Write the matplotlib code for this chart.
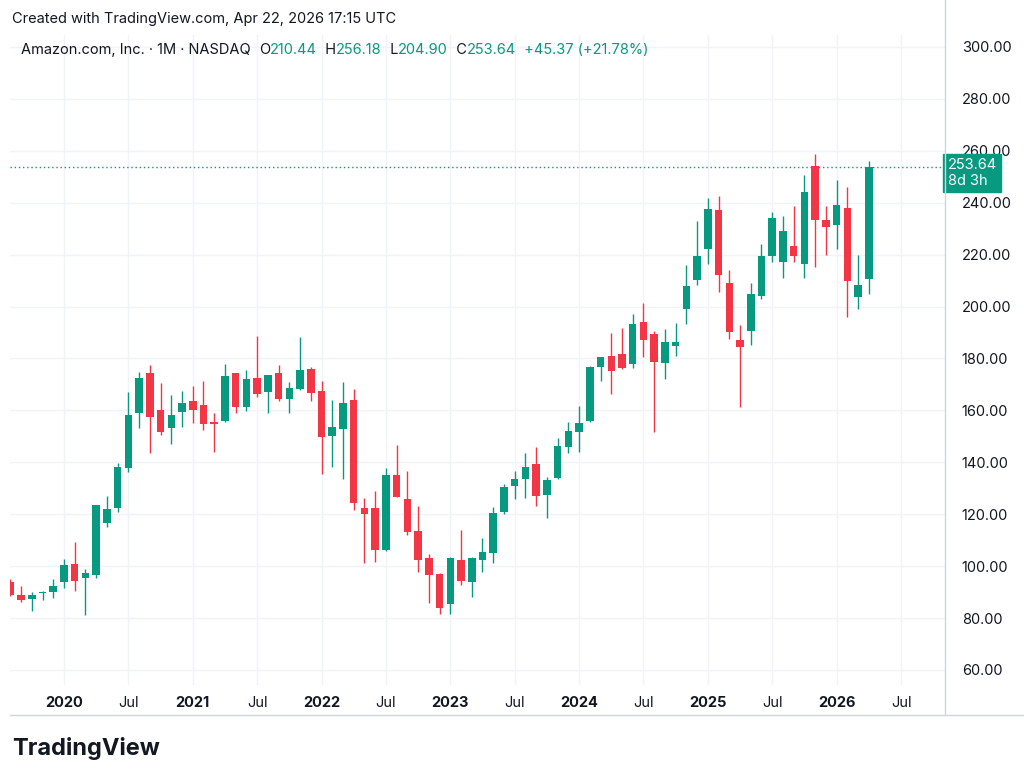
import matplotlib.pyplot as plt
from matplotlib.lines import Line2D
import numpy as np

# monthly candles, Aug 2019 .. Apr 2026
start_month = -5  # Aug 2019 relative to Jan 2020
opens = [93.7, 88.9, 87.4, 89.5, 90.2,
         93.8, 101.0, 95.3, 96.6, 116.8, 122.4, 137.9, 159.0, 174.5, 160.0, 153.1, 159.4,
         163.5, 162.1, 155.6, 155.9, 174.2, 161.2, 172.5, 167.0, 174.4, 164.5, 168.1, 176.0,
         167.6, 150.0, 152.7, 164.1, 122.4, 122.3, 106.3, 135.0, 126.0, 113.6, 103.0, 97.0,
         85.5, 102.5, 93.9, 102.3, 105.0, 120.7, 130.8, 133.6, 139.5, 127.3, 134.0, 146.0,
         151.5, 155.9, 176.8, 180.8, 181.6, 177.7, 193.9, 189.3, 178.1, 184.9, 199.0, 210.3,
         222.0, 237.0, 209.0, 187.2, 190.6, 204.0, 219.5, 217.2, 223.5, 216.4, 254.0, 233.2,
         231.5, 238.0, 203.5, 210.44]
highs = [94.9, 92.5, 89.9, 90.5, 95.1,
         102.8, 109.3, 99.0, 122.4, 127.0, 139.8, 167.2, 174.8, 177.6, 170.4, 166.1, 167.5,
         169.4, 171.3, 158.8, 177.7, 174.3, 175.5, 188.7, 170.9, 177.5, 171.0, 188.1, 176.7,
         171.4, 163.8, 170.8, 168.4, 126.2, 128.9, 137.7, 146.6, 136.5, 123.0, 104.6, 97.2,
         103.5, 114.0, 103.5, 110.9, 122.9, 131.5, 136.6, 143.6, 145.9, 134.5, 149.3, 155.6,
         161.7, 177.2, 180.1, 189.8, 191.7, 197.0, 201.2, 190.6, 191.2, 193.8, 215.9, 233.0,
         241.8, 242.5, 214.0, 192.9, 209.0, 224.0, 236.5, 235.0, 238.8, 250.5, 258.6, 238.9,
         248.9, 246.0, 220.0, 256.18]
lows = [88.3, 86.1, 82.6, 86.8, 87.8,
        91.5, 90.6, 81.3, 95.5, 115.1, 121.0, 136.1, 153.2, 143.6, 150.4, 147.0, 153.6,
        155.1, 152.5, 144.1, 155.6, 158.8, 159.8, 165.3, 158.8, 163.7, 158.8, 168.0, 163.6,
        135.4, 138.3, 133.6, 121.6, 101.3, 101.4, 105.9, 126.7, 112.1, 97.7, 85.9, 81.7,
        81.4, 92.6, 88.1, 97.7, 101.2, 119.9, 125.9, 126.4, 123.0, 118.4, 133.7, 143.6,
        144.0, 155.6, 171.5, 166.3, 176.0, 176.3, 180.4, 151.6, 172.0, 181.1, 193.4, 208.1,
        216.2, 205.6, 187.5, 161.4, 185.0, 203.0, 217.0, 211.0, 217.0, 211.0, 215.2, 220.0,
        222.0, 196.0, 199.0, 204.90]
closes = [88.8, 86.8, 88.8, 90.0, 92.4,
          100.4, 94.2, 97.5, 123.7, 122.1, 138.0, 158.2, 172.5, 157.4, 151.8, 158.4, 162.8,
          160.3, 154.6, 154.7, 173.4, 161.2, 172.0, 166.4, 173.5, 164.3, 168.6, 175.4, 166.7,
          149.6, 153.6, 163.0, 124.3, 120.2, 106.2, 135.0, 126.8, 113.0, 102.4, 96.5, 84.0,
          103.1, 94.2, 103.3, 105.5, 120.6, 130.4, 133.7, 138.0, 127.1, 133.1, 146.1, 151.9,
          155.2, 176.8, 180.4, 175.0, 176.4, 193.3, 187.0, 178.5, 186.3, 186.4, 207.9, 219.4,
          237.7, 212.3, 190.3, 184.4, 205.0, 219.4, 234.1, 229.0, 219.6, 244.2, 233.2, 230.8,
          239.3, 210.0, 208.27, 253.64]
year_ticks = [0, 12, 24, 36, 48, 60, 72]
year_labels = ["2020", "2021", "2022", "2023", "2024", "2025", "2026"]
jul_ticks = [6, 18, 30, 42, 54, 66, 78]
price_ticks = [60, 80, 100, 120, 140, 160, 180, 200, 220, 240, 260, 280, 300]

GREEN = "#089981"
RED = "#F23645"
INK = "#131722"

plt.rcParams['font.family'] = ['Inter', 'DejaVu Sans']
fig = plt.figure(figsize=(10.24, 7.83), dpi=100)
ax = fig.add_axes([10 / 1024, 98 / 783, 935 / 1024, 650 / 783])

x = np.arange(len(opens)) + start_month
o = np.array(opens); h = np.array(highs); l = np.array(lows); c = np.array(closes)
cols = np.where(c >= o, GREEN, RED)
ax.vlines(x, l, h, colors=cols, linewidth=1, zorder=3)
ax.bar(x, np.maximum(np.abs(c - o), 0.4), bottom=np.minimum(o, c), width=0.7,
       color=cols, zorder=4)

ax.set_xlim(-5.03, 82.1)
ax.set_ylim(54.2, 304.6)
ax.yaxis.tick_right()
ax.set_yticks(price_ticks)
ax.set_yticklabels([f"{v:.2f}" for v in price_ticks], fontsize=10.5, color=INK)
ax.set_xticks(year_ticks + jul_ticks)
ax.set_xticklabels(year_labels + ["Jul"] * len(jul_ticks), fontsize=10.5, color=INK)
for lab in ax.get_xticklabels()[:len(year_ticks)]:
    lab.set_fontweight("bold")
ax.tick_params(length=0)
ax.tick_params(axis="x", pad=8)
ax.tick_params(axis="y", pad=12)
ax.grid(True, color="#F0F3FA", linewidth=1, zorder=0)
for s in ["top", "left", "bottom", "right"]:
    ax.spines[s].set_visible(False)

# axis frame lines (right price scale border, bottom time scale border)
fig.add_artist(Line2D([945 / 1024, 945 / 1024], [68 / 783, 1], color="#D1D4DC", lw=1))
fig.add_artist(Line2D([10 / 1024, 1], [68 / 783, 68 / 783], color="#D1D4DC", lw=1))

last = closes[-1]
ax.axhline(last, color=GREEN, linestyle=(0, (1, 2)), linewidth=1, zorder=2)
ax.text(1.003, last + 3.5, f"{last:.2f}\n8d 3h", transform=ax.get_yaxis_transform(),
        ha="left", va="top", fontsize=10.5, color="white", linespacing=1.15,
        bbox=dict(boxstyle="square,pad=0.3", fc=GREEN, ec=GREEN), clip_on=False, zorder=10)

fig.text(12 / 1024, 1 - 19 / 783, "Created with TradingView.com, Apr 22, 2026 17:15 UTC",
         fontsize=10.5, color=INK, va="center")
ttl = ax.text(0.012, 1 - 15 / 650, "Amazon.com, Inc. · 1M · NASDAQ  ", transform=ax.transAxes,
              fontsize=10.5, color=INK, va="center")
chg = closes[-1] - closes[-2]
pct = chg / closes[-2] * 100
parts = [("O", INK), (f"{opens[-1]:.2f}", GREEN), ("  H", INK), (f"{highs[-1]:.2f}", GREEN),
         ("  L", INK), (f"{lows[-1]:.2f}", GREEN), ("  C", INK), (f"{closes[-1]:.2f}", GREEN),
         (f"  +{chg:.2f} (+{pct:.2f}%)", GREEN)]
fig.canvas.draw()
prev = ttl
for t, col in parts:
    prev = ax.annotate(t, xycoords=prev, xy=(1, 0.5), va="center", ha="left",
                       fontsize=10.5, color=col)
    fig.canvas.draw()

fig.text(12 / 1024, 1 - 748 / 783, "TradingView", fontsize=17, fontweight="bold",
         color=INK, va="center")
fig.savefig("out.png", dpi=100)
